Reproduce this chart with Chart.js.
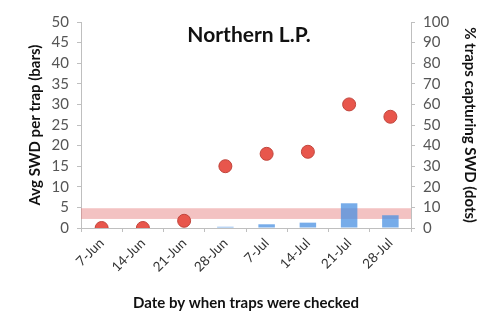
<!DOCTYPE html>
<html>
<head>
<meta charset="utf-8">
<script src="https://cdn.jsdelivr.net/npm/chart.js@4"></script>
<style>
  html, body { margin: 0; padding: 0; background: #fff; }
  #chart { display: block; }
</style>
</head>
<body>
<canvas id="chart" width="500" height="334"></canvas>
<script>
// data
const dates = ['7-Jun', '14-Jun', '21-Jun', '28-Jun', '7-Jul', '14-Jul', '21-Jul', '28-Jul'];
const avgSwd = [0, 0, 0, 0.3, 0.9, 1.3, 6.0, 3.1];        // bars, left axis
const pctTraps = [0, 0, 3.5, 30, 36, 37, 60, 54];         // dots, right axis
const bandRange = [2.2, 4.8];                              // pink band, left axis
const leftTicks = [0, 5, 10, 15, 20, 25, 30, 35, 40, 45, 50];
const rightTicks = [0, 10, 20, 30, 40, 50, 60, 70, 80, 90, 100];

const FONT = 'Lato, "Open Sans", sans-serif';

// pink band behind the marks, placed through the left scale
const bandPlugin = {
  id: 'band',
  beforeDatasetsDraw(chart) {
    const { ctx, chartArea, scales } = chart;
    const yTop = scales.y.getPixelForValue(bandRange[1]);
    const yBot = scales.y.getPixelForValue(bandRange[0]);
    ctx.save();
    ctx.fillStyle = 'rgba(228, 120, 120, 0.45)';
    ctx.fillRect(chartArea.left, yTop, chartArea.right - chartArea.left, yBot - yTop);
    ctx.restore();
  }
};

// title sits inside the plot area
const titlePlugin = {
  id: 'innerTitle',
  afterDraw(chart) {
    const { ctx } = chart;
    ctx.save();
    ctx.font = 'bold 21px ' + FONT;
    ctx.fillStyle = '#111';
    ctx.textAlign = 'center';
    ctx.textBaseline = 'middle';
    ctx.fillText('Northern L.P.', 249, 35);
    ctx.restore();
  }
};

const ctx = document.getElementById('chart');
new Chart(ctx, {
  data: {
    labels: dates,
    datasets: [
      {
        type: 'line',
        label: '% traps capturing SWD',
        data: pctTraps,
        yAxisID: 'y1',
        showLine: false,
        pointRadius: 6.5,
        pointBackgroundColor: '#e8564c',
        pointBorderColor: '#c0453c',
        pointBorderWidth: 1,
        order: 0
      },
      {
        type: 'bar',
        label: 'Avg SWD per trap',
        data: avgSwd,
        yAxisID: 'y',
        backgroundColor: 'rgba(74, 144, 226, 0.75)',
        barPercentage: 0.4,
        categoryPercentage: 1,
        order: 1
      }
    ]
  },
  options: {
    responsive: false,
    animation: false,
    layout: { padding: { left: 22, right: 17, top: 22, bottom: 18 } },
    plugins: {
      legend: { display: false },
      tooltip: { enabled: false }
    },
    scales: {
      x: {
        offset: true,
        grid: { display: true, drawOnChartArea: false, tickLength: 4, color: '#bfbfbf', offset: true },
        border: { color: '#bfbfbf' },
        ticks: { minRotation: 45, maxRotation: 45, autoSkip: false, color: '#333', font: { family: FONT, size: 13.5 }, padding: 3 },
        title: { display: true, text: 'Date by when traps were checked', color: '#111',
                 font: { family: FONT, size: 15, weight: 'bold' }, padding: { top: 4, bottom: 4 } },
        afterFit(scale) { scale.height = 88; }
      },
      y: {
        position: 'left',
        min: 0, max: 50,
        afterBuildTicks(scale) { scale.ticks = leftTicks.map(v => ({ value: v })); },
        grid: { drawOnChartArea: false, tickLength: 4, color: '#bfbfbf' },
        border: { color: '#bfbfbf' },
        ticks: { autoSkip: false, color: '#555', font: { family: FONT, size: 15 }, padding: 8 },
        title: { display: true, text: 'Avg SWD per trap (bars)', color: '#111',
                 font: { family: FONT, size: 15, weight: 'bold' }, padding: { top: 4, bottom: 4 } },
        afterFit(scale) { scale.width = 59; }
      },
      y1: {
        position: 'right',
        min: 0, max: 100,
        afterBuildTicks(scale) { scale.ticks = rightTicks.map(v => ({ value: v })); },
        grid: { drawOnChartArea: false, tickLength: 4, color: '#bfbfbf' },
        border: { color: '#bfbfbf' },
        ticks: { autoSkip: false, color: '#555', font: { family: FONT, size: 15 }, padding: 8 },
        title: { display: true, text: '% traps capturing SWD (dots)', color: '#111',
                 font: { family: FONT, size: 15, weight: 'bold' }, padding: { top: 4, bottom: 4 } },
        afterFit(scale) { scale.width = 72; }
      }
    }
  },
  plugins: [bandPlugin, titlePlugin]
});
</script>
</body>
</html>
